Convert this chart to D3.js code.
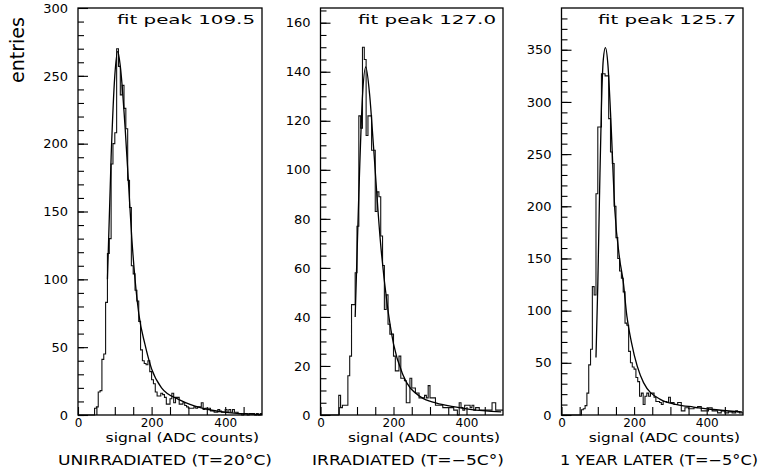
<!DOCTYPE html>
<html>
<head>
<meta charset="utf-8">
<script src="https://cdn.jsdelivr.net/npm/d3@7"></script>
<style>
  body { margin: 0; background: #fff; }
  svg { display: block; }
  text { font-family: "DejaVu Sans", sans-serif; fill: #000; }
</style>
</head>
<body>
<svg id="chart" width="764" height="473"></svg>
<script>
// histogram bins: 5 ADC counts wide, 0..500
const binStarts = d3.range(0, 500, 5);

const counts1 = [
  0,0,0,0,0,0,0,0,0,5,
  6,17,18,41,45,83,119,130,185,200,
  208,270,257,236,243,226,211,173,153,110,
  104,92,84,69,48,40,38,37,40,32,
  26,23,17,14,14,16,15,13,8,8,
  12,16,9,13,13,8,8,9,7,6,
  5,5,5,6,5,6,6,9,4,5,
  5,5,3,3,2,2,4,3,2,2,
  4,2,4,2,4,2,2,1,1,0,
  1,1,0,1,1,1,0,1,0,1
];
const counts2 = [
  0,0,0,0,0,0,0,0,0,0,
  8,3,4,4,4,16,24,45,45,58,
  77,122,117,150,145,114,122,122,108,108,
  83,91,89,73,61,43,49,37,33,33,
  24,18,18,24,15,15,14,5,5,15,
  11,11,9,9,7,7,7,8,7,12,
  7,7,7,4,4,4,4,3,3,3,
  3,3,3,2,2,0,5,3,2,4,
  4,4,3,4,2,3,3,2,2,2,
  2,2,2,2,5,5,2,2,2,2
];
const counts3 = [
  0,0,0,0,0,0,0,0,0,0,
  0,5,6,9,21,48,63,123,115,212,
  276,276,327,327,325,325,284,252,241,200,
  170,150,138,131,118,88,86,61,50,46,
  44,36,32,18,21,10,18,21,18,21,
  21,17,13,13,12,10,13,13,12,17,
  12,12,10,10,12,12,4,4,7,7,
  6,6,6,7,7,8,8,4,4,4,
  4,7,7,4,4,4,2,2,4,4,
  2,2,3,3,2,2,4,3,2,2
];

// fitted curves
const fitX1 = [80, 90, 100, 108, 115, 128, 137, 146, 155, 165, 182, 200, 227, 273, 318, 364, 409, 500];
const fitY1 = [100, 190, 250, 268, 257, 212, 172, 131, 100, 75, 52, 34, 20, 11.5, 6.6, 3.5, 1.7, 0.3];
const fitX2 = [95, 105, 115, 124, 135, 145, 164, 182, 200, 227, 273, 318, 364, 409, 495];
const fitY2 = [40, 90, 130, 142, 130, 110, 71, 46, 29, 16, 7.5, 4.8, 3.4, 2.3, 1.3];
const fitX3 = [95, 100, 105, 110, 115, 121, 128, 135, 147, 160, 170, 180, 193, 226, 272, 318, 364, 410, 497];
const fitY3 = [55, 125, 215, 295, 340, 352, 335, 290, 196, 150, 128, 95, 69, 31, 15, 10, 7.6, 5.5, 3];

const peakLabels = ["fit peak 109.5", "fit peak 127.0", "fit peak 125.7"];
const titles = ["UNIRRADIATED (T=20°C)", "IRRADIATED (T=\u22125C°)", "1 YEAR LATER (T=\u22125°C)"];
const yMax = [300, 166, 390];
const yMajor1 = [0, 50, 100, 150, 200, 250, 300];
const yMajor2 = [0, 20, 40, 60, 80, 100, 120, 140, 160];
const yMajor3 = [0, 50, 100, 150, 200, 250, 300, 350];
const yMinorStep = [10, 5, 10];
const xTicks = [0, 50, 100, 150, 200, 250, 300, 350, 400, 450];
const xLabelled = [0, 200, 400];

const svg = d3.select("#chart");
const plotTop = 8, plotBottom = 415;

const panels = [
  { left: 78, right: 262, counts: counts1, fx: fitX1, fy: fitY1, major: yMajor1 },
  { left: 320.5, right: 503, counts: counts2, fx: fitX2, fy: fitY2, major: yMajor2 },
  { left: 561.5, right: 743, counts: counts3, fx: fitX3, fy: fitY3, major: yMajor3 }
];
const titleX = [58, 312, 560];
const titleW = [214, 192, 198];

panels.forEach((p, k) => {
  const x = d3.scaleLinear().domain([0, 500]).range([p.left, p.right]);
  const y = d3.scaleLinear().domain([0, yMax[k]]).range([plotBottom, plotTop]);
  const g = svg.append("g");

  // minor y ticks
  g.append("g")
    .attr("transform", `translate(${p.left},0)`)
    .call(d3.axisLeft(y).tickValues(d3.range(0, yMax[k], yMinorStep[k])).tickSizeInner(-6).tickSizeOuter(0).tickFormat(""))
    .call(a => a.select(".domain").remove());

  // major y ticks with labels
  g.append("g")
    .attr("transform", `translate(${p.left},0)`)
    .call(d3.axisLeft(y).tickValues(p.major).tickSizeInner(-10).tickSizeOuter(0).tickPadding(10).tickFormat(d3.format("d")))
    .call(a => a.select(".domain").remove())
    .call(a => a.selectAll("text").attr("font-size", 13).attr("font-family", "DejaVu Sans"));

  // x ticks
  g.append("g")
    .attr("transform", `translate(0,${plotBottom})`)
    .call(d3.axisBottom(x).tickValues(xTicks).tickSizeInner(-8).tickSizeOuter(0).tickPadding(3)
      .tickFormat(d => xLabelled.includes(d) ? d : ""))
    .call(a => a.select(".domain").remove())
    .call(a => a.selectAll("text").attr("font-size", 12).attr("font-family", "DejaVu Sans"));

  g.selectAll(".tick line").attr("stroke", "#000").attr("stroke-width", 1.1);

  // histogram
  const pts = binStarts.map((b, i) => [b, p.counts[i]]);
  pts.push([500, p.counts[p.counts.length - 1]]);
  g.append("path")
    .attr("d", d3.line().x(d => x(d[0])).y(d => y(d[1])).curve(d3.curveStepAfter)(pts))
    .attr("fill", "none").attr("stroke", "#111").attr("stroke-width", 1.1);

  // fit
  g.append("path")
    .attr("d", d3.line().x(d => x(d[0])).y(d => y(d[1])).curve(d3.curveMonotoneX)(p.fx.map((v, i) => [v, p.fy[i]])))
    .attr("fill", "none").attr("stroke", "#000").attr("stroke-width", 1.3);

  // frame
  g.append("rect")
    .attr("x", p.left).attr("y", plotTop)
    .attr("width", p.right - p.left).attr("height", plotBottom - plotTop)
    .attr("fill", "none").attr("stroke", "#000").attr("stroke-width", 1.3);

  g.append("text")
    .attr("x", p.right - 7).attr("y", 24)
    .attr("text-anchor", "end").attr("font-size", 13)
    .attr("textLength", 138).attr("lengthAdjust", "spacingAndGlyphs")
    .text(peakLabels[k]);

  g.append("text")
    .attr("x", x(75)).attr("y", 442)
    .attr("font-size", 12)
    .attr("textLength", p.right - 3 - x(75)).attr("lengthAdjust", "spacingAndGlyphs")
    .text("signal (ADC counts)");

  g.append("text")
    .attr("x", titleX[k]).attr("y", 465)
    .attr("font-size", 14)
    .attr("textLength", titleW[k]).attr("lengthAdjust", "spacingAndGlyphs")
    .text(titles[k]);
});

svg.append("text")
  .attr("transform", "translate(24,50) rotate(-90)")
  .attr("text-anchor", "middle")
  .attr("font-family", "Liberation Sans")
  .attr("font-size", 19)
  .text("entries");
</script>
</body>
</html>
